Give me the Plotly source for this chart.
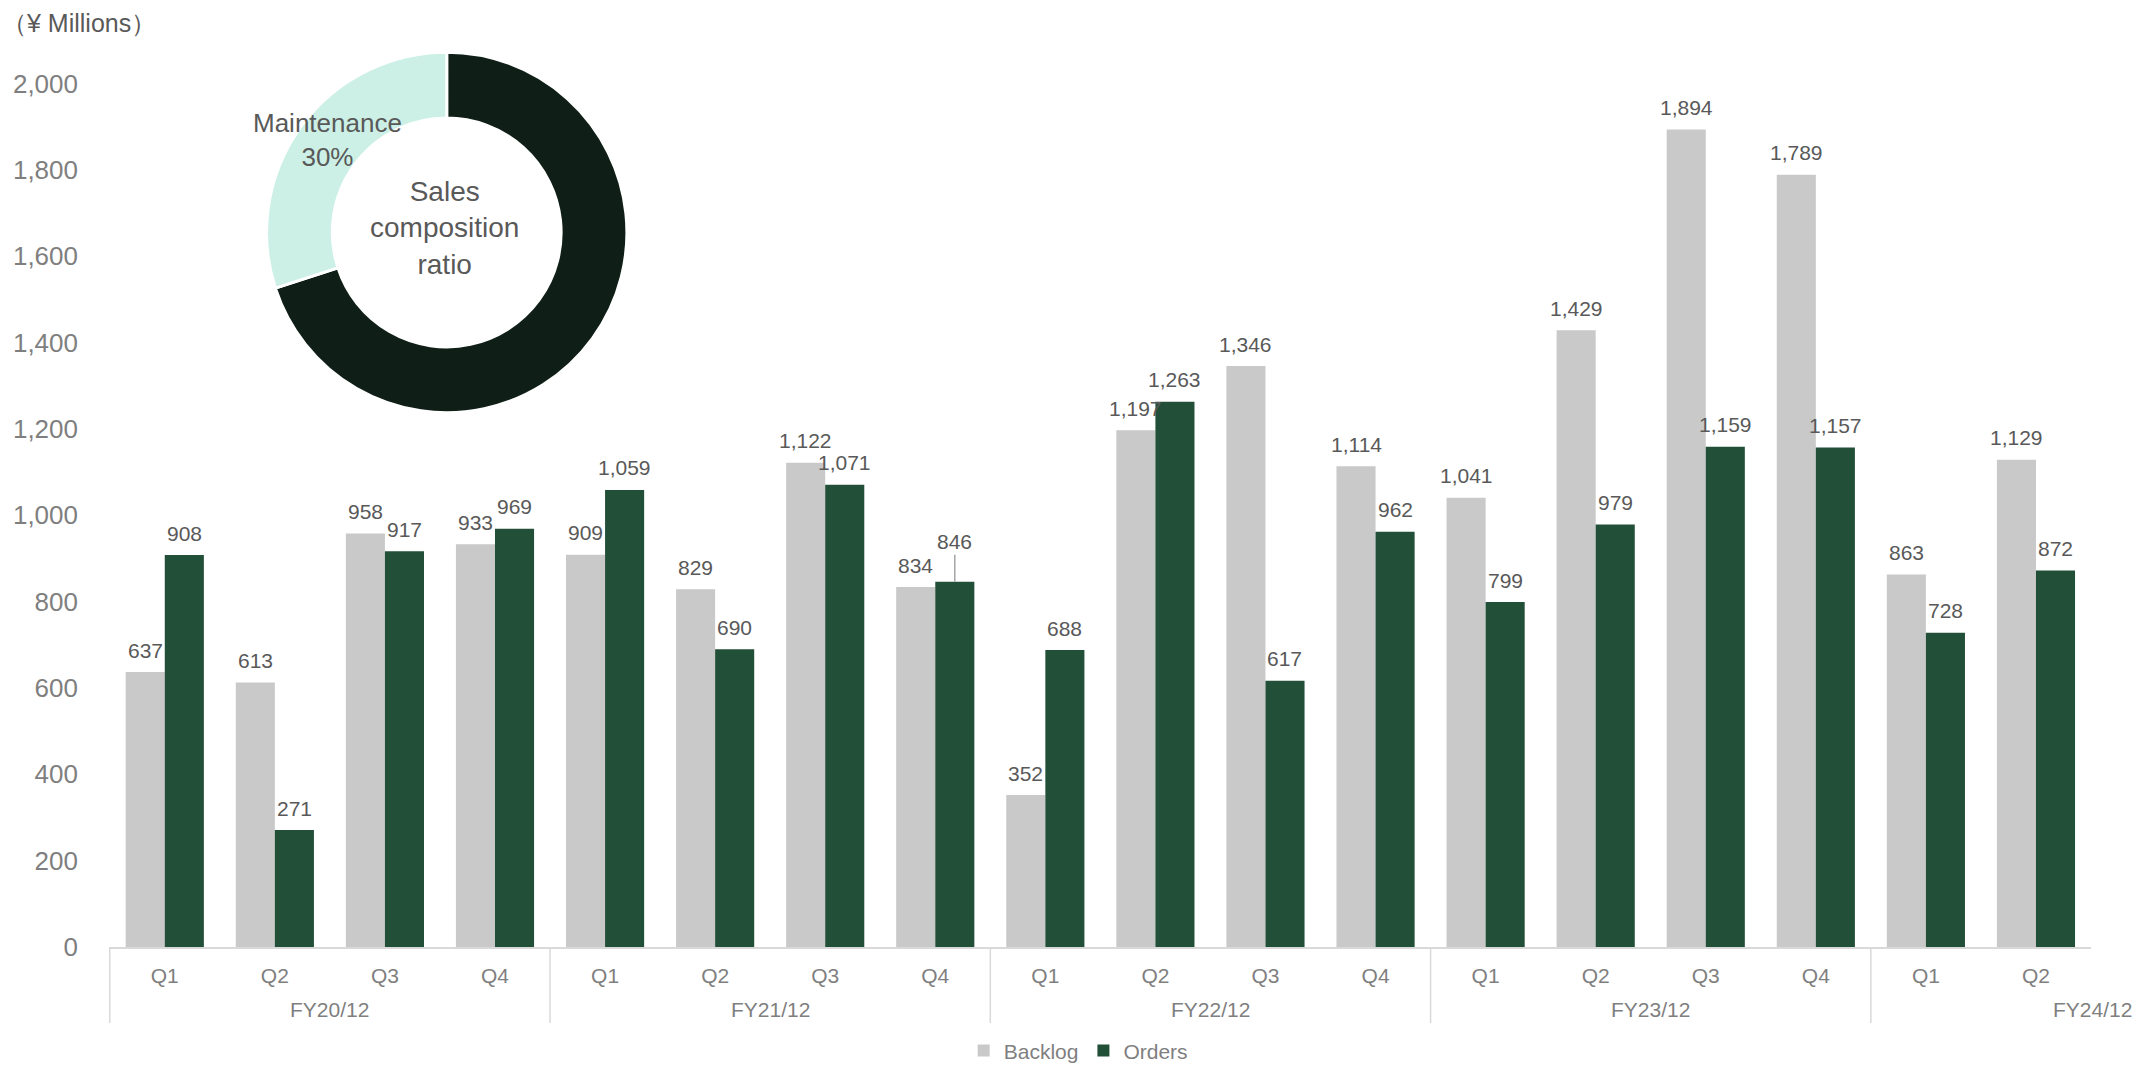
import plotly.graph_objects as go

# ---- data ----
fiscal_years = ["FY20/12", "FY21/12", "FY22/12", "FY23/12", "FY24/12"]
quarters_per_year = [4, 4, 4, 4, 2]
quarter_names = ["Q1", "Q2", "Q3", "Q4"]

backlog = [637, 613, 958, 933,
           909, 829, 1122, 834,
           352, 1197, 1346, 1114,
           1041, 1429, 1894, 1789,
           863, 1129]
orders = [908, 271, 917, 969,
          1059, 690, 1071, 846,
          688, 1263, 617, 962,
          799, 979, 1159, 1157,
          728, 872]

pie_labels = ["Other", "Maintenance"]
pie_values = [70, 30]

# ---- build categories ----
categories = []
tick_text = []
for fy, n in zip(fiscal_years, quarters_per_year):
    for q in quarter_names[:n]:
        categories.append(f"{fy} {q}")
        tick_text.append(q)

FONT = "Liberation Sans, Arial, sans-serif"
LABEL_GRAY = "#595959"
AXIS_GRAY = "#7F7F7F"

fig = go.Figure()

fig.add_trace(go.Bar(
    name="Backlog", x=categories, y=backlog,
    marker=dict(color="#C9C9C9", line=dict(width=0)),
    hoverinfo="x+y",
))
fig.add_trace(go.Bar(
    name="Orders", x=categories, y=orders,
    marker=dict(color="#224F37", line=dict(width=0)),
    hoverinfo="x+y",
))

fig.add_trace(go.Pie(
    labels=pie_labels, values=pie_values, hole=0.635, sort=False,
    direction="clockwise", rotation=0,
    marker=dict(colors=["#0F1F17", "#CCF0E6"], line=dict(color="white", width=3)),
    textinfo="none", showlegend=False, hoverinfo="skip",
    domain=dict(x=[0.0795, 0.2613], y=[0.5888, 0.9868]),
))

annotations = []

# data labels (positioned over each bar of the grouped pair)
BAR_SHIFT = 19.5
for cat, b, o in zip(categories, backlog, orders):
    annotations.append(dict(x=cat, y=b, xref="x", yref="y", text=f"{b:,}", showarrow=False,
                            xshift=-BAR_SHIFT, yshift=22, xanchor="center", yanchor="middle",
                            font=dict(family=FONT, size=21, color=LABEL_GRAY)))
    if cat == "FY21/12 Q4":
        annotations.append(dict(x=cat, y=o, xref="x", yref="y", text=f"{o:,}", showarrow=True,
                                arrowhead=0, arrowwidth=1.5, arrowcolor="#A6A6A6",
                                ax=0, ay=-40, xshift=BAR_SHIFT, standoff=0,
                                font=dict(family=FONT, size=21, color=LABEL_GRAY)))
    else:
        annotations.append(dict(x=cat, y=o, xref="x", yref="y", text=f"{o:,}", showarrow=False,
                                xshift=BAR_SHIFT, yshift=22, xanchor="center", yanchor="middle",
                                font=dict(family=FONT, size=21, color=LABEL_GRAY)))

# fiscal year labels
start = 0
for fy, n in zip(fiscal_years, quarters_per_year):
    center = start + (n - 1) / 2
    if n == 4:
        annotations.append(dict(x=center, xref="x", y=-0.0684, yref="paper",
                                text=fy, showarrow=False, xanchor="center", yanchor="middle",
                                font=dict(family=FONT, size=21, color=AXIS_GRAY)))
    else:
        annotations.append(dict(x=1.0217, xref="paper", y=-0.0684, yref="paper",
                                text=fy, showarrow=False, xanchor="right", yanchor="middle",
                                font=dict(family=FONT, size=21, color=AXIS_GRAY)))
    start += n

annotations += [
    dict(x=0.1695, y=0.7927, xref="paper", yref="paper", text="Sales<br>composition<br>ratio",
         showarrow=False, xanchor="center", yanchor="middle",
         font=dict(family=FONT, size=28, color=LABEL_GRAY)),
    dict(x=0.110, y=0.8897, xref="paper", yref="paper", text="Maintenance<br>30%",
         showarrow=False, xanchor="center", yanchor="middle",
         font=dict(family=FONT, size=26, color=LABEL_GRAY)),
    dict(x=-0.055, y=1.0187, xref="paper", yref="paper", text="（¥ Millions）",
         showarrow=False, xanchor="left", yanchor="middle",
         font=dict(family=FONT, size=25, color=LABEL_GRAY)),
]

# group dividers
shapes = []
start = 0
for n in quarters_per_year:
    shapes.append(dict(type="line", xref="x", yref="paper", x0=start - 0.5, x1=start - 0.5,
                       y0=0, y1=-0.0838, line=dict(color="#D9D9D9", width=1.5)))
    start += n

fig.update_layout(
    width=2136, height=1068,
    margin=dict(l=109, r=45, t=40, b=121),
    paper_bgcolor="white", plot_bgcolor="white",
    barmode="group", bargap=0.29, bargroupgap=0,
    font=dict(family=FONT, color=AXIS_GRAY),
    showlegend=True,
    legend=dict(orientation="h", x=0.489, xanchor="center",
                yref="container", y=0.016, yanchor="middle",
                font=dict(family=FONT, size=21, color=AXIS_GRAY), traceorder="normal"),
    xaxis=dict(type="category", tickvals=categories, ticktext=tick_text,
               tickfont=dict(family=FONT, size=21, color=AXIS_GRAY),
               showline=True, linecolor="#D9D9D9", linewidth=2,
               ticks="outside", ticklen=9, tickcolor="rgba(0,0,0,0)",
               showgrid=False, zeroline=False, automargin=False),
    yaxis=dict(range=[0, 2000], dtick=200, tickformat=",", domain=[0, 0.9518],
               tickfont=dict(family=FONT, size=26, color=AXIS_GRAY),
               showgrid=False, zeroline=False, showline=False,
               ticklabelstandoff=30, automargin=False),
    annotations=annotations, shapes=shapes,
)

fig.write_html("out.html")
